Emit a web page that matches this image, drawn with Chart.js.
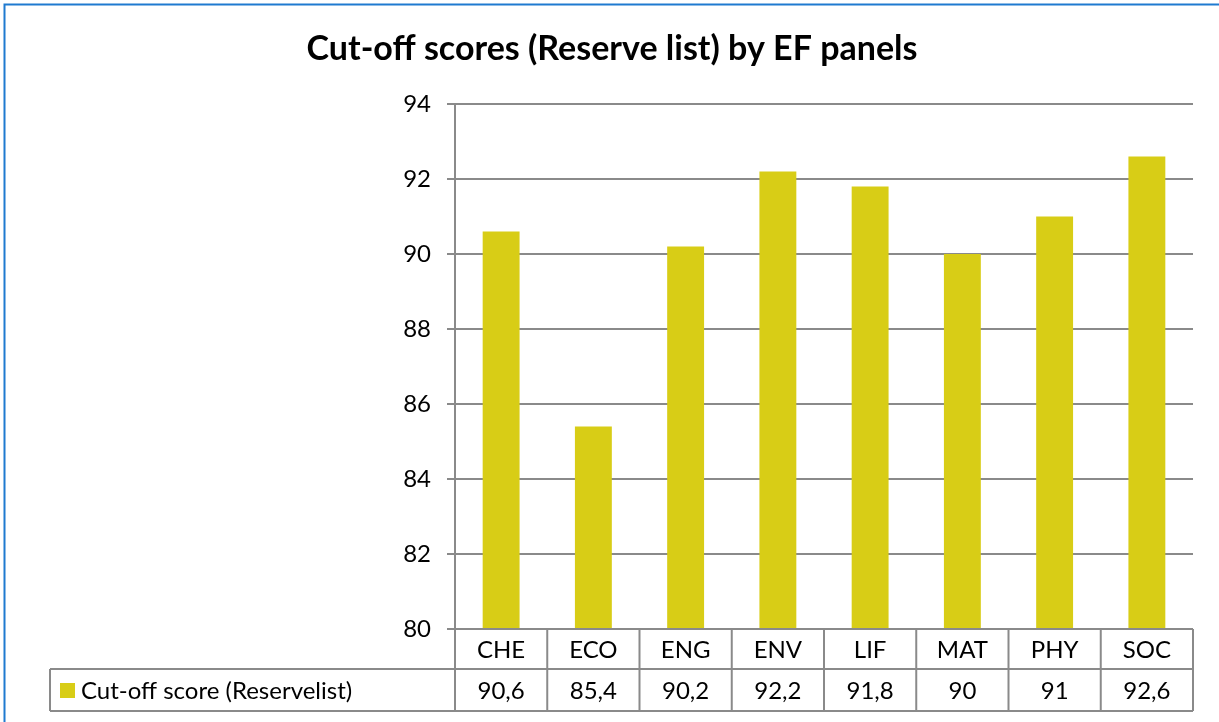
<!DOCTYPE html>
<html>
<head>
<meta charset="utf-8">
<script src="https://cdn.jsdelivr.net/npm/chart.js@4/dist/chart.umd.min.js"></script>
<style>
html,body{margin:0;padding:0;background:#fff;}
#wrap{width:1219px;height:722px;position:relative;}
</style>
</head>
<body>
<div id="wrap"><canvas id="c" width="1219" height="722"></canvas></div>
<script>
const titleText = 'Cut-off scores (Reserve list) by EF panels';
const categories = ['CHE','ECO','ENG','ENV','LIF','MAT','PHY','SOC'];
const seriesName = 'Cut-off score (Reservelist)';
const values = [90.6, 85.4, 90.2, 92.2, 91.8, 90, 91, 92.6];
const valueLabels = ['90,6','85,4','90,2','92,2','91,8','90','91','92,6'];
const yTicks = [80, 82, 84, 86, 88, 90, 92, 94];

const BAR = '#D8CD16';
const GRID = '#8a8a8a';
const FONT = 'Lato, "Open Sans", sans-serif';

const tablePlugin = {
  id: 'dataTable',
  afterDraw(chart) {
    const ctx = chart.ctx;
    const x = chart.scales.x;
    const area = chart.chartArea;
    const top = area.bottom;
    const rowH = 40;
    const row2Top = top + rowH;
    const row2Bot = row2Top + 42;
    const legendLeft = 50;
    ctx.save();
    // frame
    ctx.strokeStyle = '#1F7AD0';
    ctx.lineWidth = 2;
    ctx.strokeRect(4.5, 4.5, 1300, 1300);
    // table lines
    ctx.strokeStyle = GRID;
    ctx.lineWidth = 2;
    ctx.beginPath();
    ctx.moveTo(area.left, top); ctx.lineTo(area.right, top);
    ctx.moveTo(legendLeft, row2Top); ctx.lineTo(area.right, row2Top);
    ctx.moveTo(legendLeft, row2Bot); ctx.lineTo(area.right, row2Bot);
    ctx.moveTo(legendLeft, row2Top); ctx.lineTo(legendLeft, row2Bot);
    const n = categories.length;
    const w = (area.right - area.left) / n;
    for (let i = 0; i <= n; i++) {
      const xx = area.left + w * i;
      ctx.moveTo(xx, top); ctx.lineTo(xx, row2Bot);
    }
    ctx.stroke();
    // text
    ctx.fillStyle = '#000';
    ctx.font = '24px ' + FONT;
    ctx.textAlign = 'center';
    ctx.textBaseline = 'middle';
    categories.forEach((c, i) => {
      const cx = x.getPixelForValue(i);
      ctx.fillText(c, cx, top + rowH / 2 + 1);
      ctx.fillText(valueLabels[i], cx, row2Top + 21 + 1);
    });
    // legend
    ctx.fillStyle = BAR;
    ctx.fillRect(60, 683, 15, 15);
    ctx.fillStyle = '#000';
    ctx.textAlign = 'left';
    ctx.fillText(seriesName, 81, row2Top + 21 + 1);
    // title
    ctx.font = 'bold 34px ' + FONT;
    ctx.textAlign = 'center';
    ctx.textBaseline = 'alphabetic';
    ctx.fillText(titleText, 612, 60);
    ctx.restore();
  }
};

new Chart(document.getElementById('c'), {
  type: 'bar',
  data: {
    labels: categories,
    datasets: [{
      label: seriesName,
      data: values,
      backgroundColor: BAR,
      borderWidth: 0,
      barPercentage: 0.4,
      categoryPercentage: 1.0
    }]
  },
  options: {
    responsive: false,
    animation: false,
    layout: { padding: { left: 5, right: 26, top: 104, bottom: 93 } },
    plugins: { legend: { display: false }, title: { display: false }, tooltip: { enabled: false } },
    scales: {
      x: {
        grid: { display: false, drawTicks: false },
        border: { display: false },
        ticks: { display: false }
      },
      y: {
        min: 80, max: 94,
        afterFit(s) { s.width = 450; },
        afterBuildTicks(s) { s.ticks = yTicks.map(v => ({ value: v })); },
        grid: { color: GRID, lineWidth: 2, tickLength: 8, drawTicks: true, tickColor: GRID },
        border: { display: true, color: GRID, width: 2 },
        ticks: { color: '#000', font: { family: FONT, size: 24 }, padding: 16 }
      }
    }
  },
  plugins: [tablePlugin]
});
</script>
</body>
</html>
